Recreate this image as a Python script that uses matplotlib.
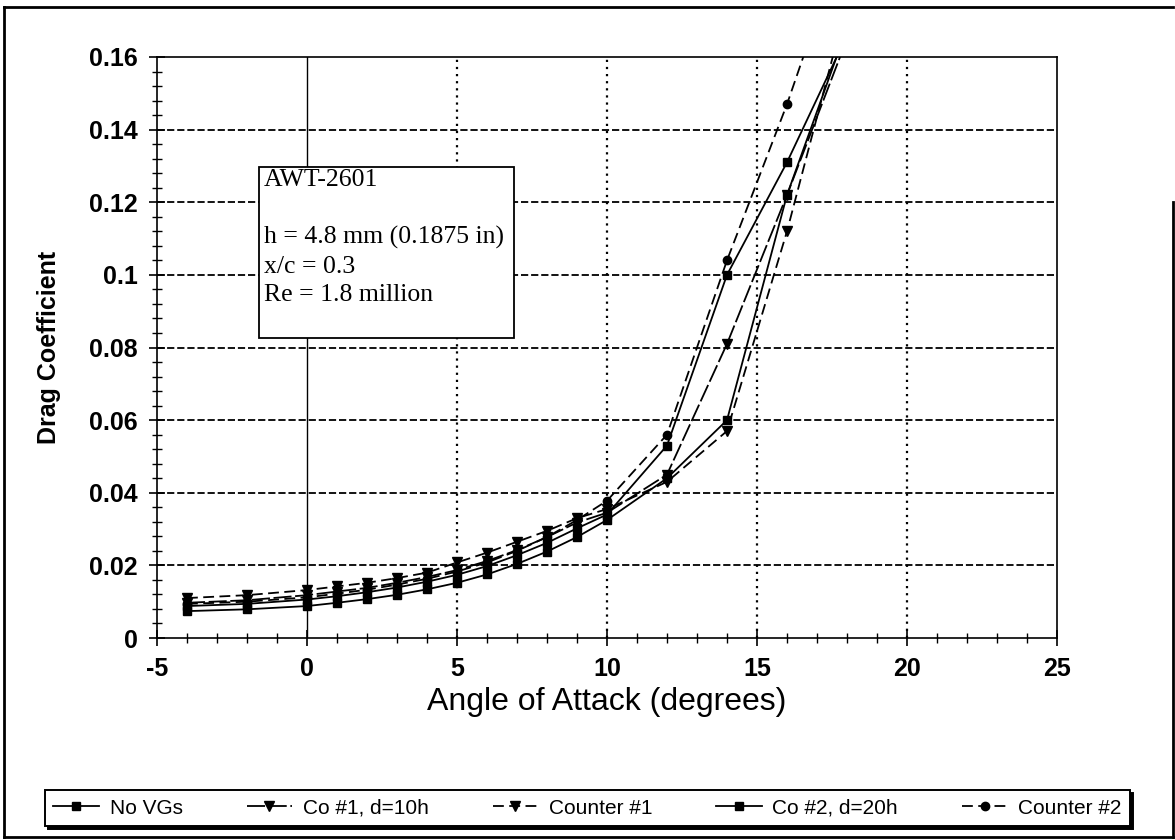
import matplotlib
matplotlib.use("Agg")
import matplotlib.pyplot as plt
from matplotlib.lines import Line2D
from matplotlib.patches import Rectangle
from matplotlib.ticker import MultipleLocator, FuncFormatter

plt.rcParams['font.family'] = ['Liberation Sans', 'DejaVu Sans']
plt.rcParams['axes.unicode_minus'] = False

# angle of attack (deg)
alpha = [-4, -2, 0, 1, 2, 3, 4, 5, 6, 7, 8, 9, 10, 12, 14, 16, 18]

# drag coefficient per configuration (last point runs off the top of the chart)
cd_none = [0.0074, 0.0079, 0.0088, 0.0097, 0.0107, 0.0119, 0.0134, 0.0152, 0.0175,
           0.0204, 0.0238, 0.0278, 0.0325, 0.0440, 0.0600, 0.1220, 0.1680]
cd_co1 = [0.0097, 0.0104, 0.0118, 0.0128, 0.0138, 0.0152, 0.0168, 0.0187, 0.0212,
          0.0242, 0.0278, 0.0318, 0.0345, 0.0450, 0.0810, 0.1220, 0.1650]
cd_counter1 = [0.0110, 0.0118, 0.0132, 0.0142, 0.0152, 0.0165, 0.0180, 0.0208, 0.0235,
               0.0265, 0.0295, 0.0330, 0.0355, 0.0430, 0.0570, 0.1120, 0.1750]
cd_co2 = [0.0088, 0.0094, 0.0106, 0.0115, 0.0126, 0.0139, 0.0155, 0.0174, 0.0198,
          0.0228, 0.0262, 0.0302, 0.0340, 0.0530, 0.1000, 0.1310, 0.1660]
cd_counter2 = [0.0094, 0.0100, 0.0112, 0.0122, 0.0133, 0.0147, 0.0163, 0.0183, 0.0208,
               0.0240, 0.0278, 0.0325, 0.0378, 0.0560, 0.1040, 0.1470, 0.1950]

labels = ["No VGs", "Co #1, d=10h", "Counter #1", "Co #2, d=20h", "Counter #2"]
note_lines = ["AWT-2601", "", "h = 4.8 mm (0.1875 in)", "x/c = 0.3", "Re = 1.8 million"]

W, H = 1175, 840
fig = plt.figure(figsize=(W / 100, H / 100), dpi=100)
ax = fig.add_axes([157 / W, 1 - 638 / H, 900 / W, 581 / H])

# grid: solid at x=0, dotted verticals, dashed horizontals
ax.axvline(0, color='k', lw=1.0, zorder=1)
for gx in [5, 10, 15, 20]:
    ax.axvline(gx, color='k', lw=1.6, ls=(0, (1, 2.2)), zorder=1)
for gy in [0.02, 0.04, 0.06, 0.08, 0.10, 0.12, 0.14]:
    ax.axhline(gy, color='k', lw=1.3, ls=(0, (4, 1.6)), zorder=1)

styles = [
    (cd_none, 's', '-', 6),
    (cd_co1, 'v', (0, (10, 2)), 7),
    (cd_counter1, 'v', (0, (6, 3)), 7),
    (cd_co2, 's', '-', 6),
    (cd_counter2, 'o', (0, (6, 3)), 6),
]
handles = []
for (vals, mk, ls, ms), lab in zip(styles, labels):
    h, = ax.plot(alpha, vals, color='k', lw=1.3, ls=ls, marker=mk, ms=ms,
                 mfc='k', mec='k', label=lab, zorder=3)
    handles.append(h)

ax.set_xlim(-5, 25)
ax.set_ylim(0, 0.16)
ax.xaxis.set_major_locator(MultipleLocator(5))
ax.xaxis.set_minor_locator(MultipleLocator(1))
ax.yaxis.set_major_locator(MultipleLocator(0.02))
ax.yaxis.set_minor_locator(MultipleLocator(0.004))
ax.yaxis.set_major_formatter(FuncFormatter(lambda v, p: "0" if v == 0 else ("%.2f" % v).rstrip('0')))
ax.tick_params(which='major', direction='inout', length=12, width=1.2, labelsize=18, pad=8)
ax.tick_params(which='minor', direction='inout', length=7, width=1.0)
for lbl in ax.get_xticklabels() + ax.get_yticklabels():
    lbl.set_fontweight('bold')
for s in ax.spines.values():
    s.set_linewidth(1.2)

ax.set_xlabel("Angle of Attack (degrees)", fontsize=23, labelpad=4)
ax.set_ylabel("Drag Coefficient", fontsize=18, fontweight='bold', labelpad=20)

# annotation box
ax.add_patch(Rectangle((-1.6, 0.0826), 8.5, 0.0471, facecolor='white', edgecolor='k',
                       lw=1.3, zorder=2))
ax.text(-1.45, 0.1291, "\n".join(note_lines), family=['Liberation Serif', 'DejaVu Serif'],
        fontsize=18.5, va='top', ha='left', linespacing=1.38, zorder=4)

leg = fig.legend(handles=handles, labels=labels, loc='lower left',
                 bbox_to_anchor=(45 / W, 1 - 826 / H, 1085 / W, 48 / H), mode='expand',
                 ncol=5, fontsize=15, handlelength=2.2, handletextpad=0.5,
                 frameon=True, fancybox=False, edgecolor='k', borderaxespad=0,
                 shadow={'color': 'black', 'alpha': 1.0})
leg.get_frame().set_linewidth(1.4)

# outer chart frame (right edge only partially drawn in the original)
fr = dict(color='k', lw=2.0, transform=fig.transFigure)
fig.add_artist(Line2D([4 / W, 4 / W], [1 - 7 / H, 1 - 837 / H], **fr))
fig.add_artist(Line2D([4 / W, 1 - 2 / W], [1 - 7 / H, 1 - 7 / H], **fr))
fig.add_artist(Line2D([4 / W, 1 - 2 / W], [1 - 837 / H, 1 - 837 / H], **fr))
fig.add_artist(Line2D([1 - 2 / W, 1 - 2 / W], [1 - 202 / H, 1 - 837 / H], **fr))

fig.savefig("out.png", dpi=100)
